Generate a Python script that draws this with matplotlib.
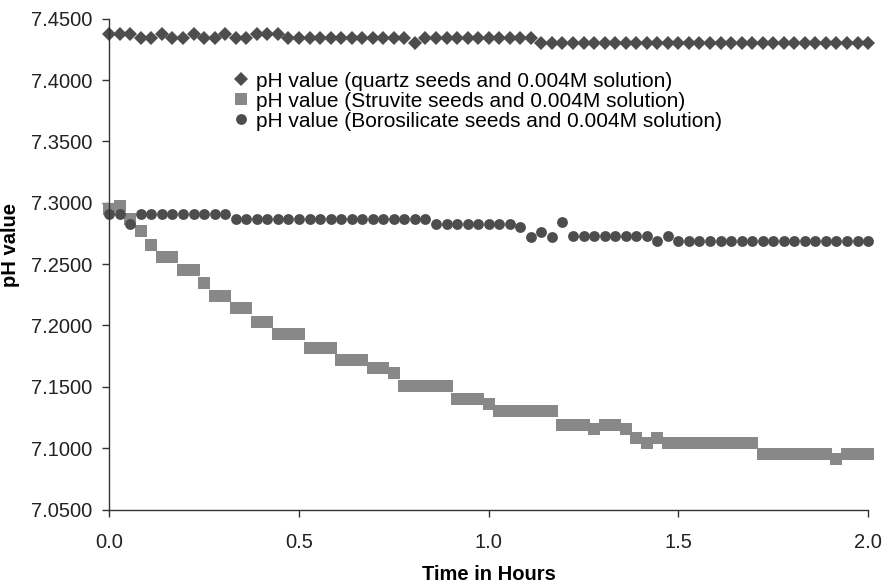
import numpy as np
import matplotlib.pyplot as plt
from matplotlib.ticker import FormatStrFormatter, MultipleLocator

plt.rcParams['font.family'] = ['Liberation Sans', 'DejaVu Sans']

# readings every 100 s over two hours
time_s = list(range(0, 7201, 100))
hours = np.array(time_s) / 3600.0

ph_quartz = ([7.438] * 3 + [7.434] * 2 + [7.438] + [7.434] * 2 + [7.438]
             + [7.434] * 2 + [7.438] + [7.434] * 2 + [7.438] * 3
             + [7.434] * 12 + [7.430] + [7.434] * 11 + [7.430] * 32)

ph_struvite = ([7.295, 7.297, 7.287, 7.277, 7.266, 7.256, 7.256, 7.245, 7.245,
                7.235, 7.224, 7.224, 7.214, 7.214, 7.203, 7.203, 7.193, 7.193,
                7.193, 7.182, 7.182, 7.182, 7.172, 7.172, 7.172, 7.165, 7.165,
                7.161]
               + [7.151] * 5 + [7.140] * 3 + [7.136] + [7.130] * 6
               + [7.119] * 3 + [7.116] + [7.119] * 2 + [7.116]
               + [7.108, 7.104, 7.108] + [7.104] * 9 + [7.095] * 7
               + [7.091] + [7.095] * 3)

ph_boro = ([7.291] * 2 + [7.283] + [7.291] * 9 + [7.287] * 19 + [7.283] * 8
           + [7.280, 7.272, 7.276, 7.272, 7.284] + [7.273] * 8
           + [7.269, 7.273] + [7.269] * 19)

labels = ['pH value (quartz seeds and 0.004M solution)',
          'pH value (Struvite seeds and 0.004M solution)',
          'pH value (Borosilicate seeds and 0.004M solution)']

fig = plt.figure(figsize=(8.84, 5.87), dpi=100)
ax = fig.add_axes([0.1236, 0.132, 0.8584, 0.836])

dark = '#4d4d4d'
grey = '#888888'
ax.plot(hours, ph_quartz, 'D', color=dark, ms=7.5, mew=0, label=labels[0], clip_on=False)
ax.plot(hours, ph_struvite, 's', color=grey, ms=8.3, mew=0, label=labels[1], clip_on=False)
ax.plot(hours, ph_boro, 'o', color=dark, ms=7.8, mew=0, label=labels[2], clip_on=False)

ax.set_xlim(0, 2.0)
ax.set_ylim(7.05, 7.45)
ax.xaxis.set_major_locator(MultipleLocator(0.5))
ax.yaxis.set_major_locator(MultipleLocator(0.05))
ax.xaxis.set_major_formatter(FormatStrFormatter('%.1f'))
ax.yaxis.set_major_formatter(FormatStrFormatter('%.4f'))

for s in ['top', 'right']:
    ax.spines[s].set_visible(False)
for s in ['left', 'bottom']:
    ax.spines[s].set_color('#333333')
    ax.spines[s].set_linewidth(1.0)
ax.tick_params(axis='both', direction='out', length=5, width=1, color='#333333',
               labelsize=14.5, labelcolor='#222222')
ax.tick_params(axis='x', pad=12)
ax.tick_params(axis='y', pad=7)

ax.set_xlabel('Time in Hours', fontsize=14.5, fontweight='bold')
ax.set_ylabel('pH value', fontsize=14.5, fontweight='bold')
ax.xaxis.set_label_coords(0.5, -0.113)
ax.yaxis.set_label_coords(-0.118, 0.54)

ax.legend(loc='upper left', bbox_to_anchor=(0.2637, 0.878), bbox_transform=fig.transFigure,
          frameon=False, fontsize=15, handlelength=0.8, handletextpad=0.3,
          borderpad=0, labelspacing=0.05, borderaxespad=0)

fig.savefig('out.png', dpi=100)
